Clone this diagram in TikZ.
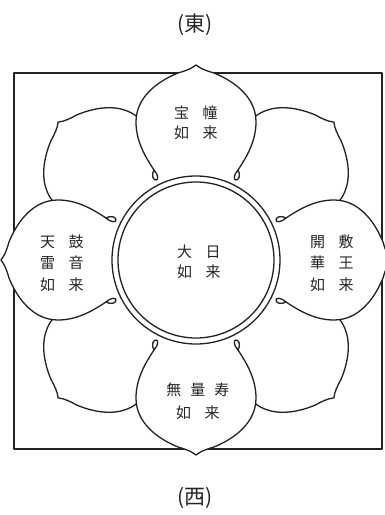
\documentclass[tikz,border=0pt]{standalone}
\usepackage{fontspec}
\usepackage{tikz}
\usetikzlibrary{positioning}
\newfontfamily\jpfont{Noto Sans CJK JP}
\definecolor{InkDark}{HTML}{222222}
\definecolor{TextGray}{HTML}{262626}

\tikzset{
  inkline/.style={draw=InkDark, line width=1.3pt, line join=round},
  nameblock/.style={align=center, text=TextGray, inner sep=0pt,
                    font=\jpfont\fontsize{15}{20}\selectfont},
  quarter/.style={text=TextGray, inner sep=0pt,
                  font=\jpfont\fontsize{21}{24}\selectfont},
  % one lotus petal, pointing up from the centre
  petal/.pic={
    \fill[white] (0,0) -- (-42,90) .. controls (-52,105) and (-60,120) .. (-60,138)
      .. controls (-60,162) and (-40,178) .. (-18,187)
      .. controls (-11,189) and (-5,191) .. (0,195)
      .. controls (5,191) and (11,189) .. (18,187)
      .. controls (40,178) and (60,162) .. (60,138)
      .. controls (60,120) and (52,105) .. (42,90) -- cycle;
    \draw[inkline] (-42,90) .. controls (-45,85) and (-43,80) .. (-40,80)
      .. controls (-37,80) and (-38,86) .. (-42,90)
      .. controls (-52,105) and (-60,120) .. (-60,138)
      .. controls (-60,162) and (-40,178) .. (-18,187)
      .. controls (-11,189) and (-5,191) .. (0,195)
      .. controls (5,191) and (11,189) .. (18,187)
      .. controls (40,178) and (60,162) .. (60,138)
      .. controls (60,120) and (52,105) .. (42,90)
      .. controls (38,86) and (37,80) .. (40,80)
      .. controls (43,80) and (45,85) .. (42,90);
  }
}

\begin{document}
\begin{tikzpicture}[x=1pt, y=1pt]
  \useasboundingbox (-196,-255) rectangle (188,260);

  % square frame
  \draw[inkline] (-182,-189) rectangle (186,187);

  % petals: diagonal ones first, the four main ones on top
  \foreach \ang in {45,135,225,315}
    \pic[rotate=\ang] at (0,0) {petal};
  \foreach \ang in {0,90,180,270}
    \pic[rotate=\ang] at (0,0) {petal};

  % centre disc with double rim
  \fill[white] (0,0) circle (84);
  \draw[inkline] (0,0) circle (84);
  \draw[inkline] (0,0) circle (78);

  % names
  \node[nameblock] (dainichi) at (3,-2) {大\hspace{.9em}日\\如\hspace{.9em}来};
  \node[nameblock] (hodo) at (0,137) {宝\hspace{.9em}幢\\如\hspace{.9em}来};
  \node[nameblock, font=\jpfont\fontsize{15}{21.5}\selectfont] (tenku) at (-134,-3)
    {天\hspace{.9em}鼓\\雷\hspace{.9em}音\\如\hspace{.9em}来};
  \node[nameblock, font=\jpfont\fontsize{15}{21.5}\selectfont] (kaifu) at (136,-3)
    {開\hspace{.9em}敷\\華\hspace{.9em}王\\如\hspace{.9em}来};
  \node[nameblock, font=\jpfont\fontsize{15}{23}\selectfont] (muryoju) at (2,-141)
    {無\hspace{.6em}量\hspace{.6em}寿\\如\hspace{.9em}来};

  % quarters
  \node[quarter] (east) at (-1,235) {(東)};
  \node[quarter] (west) at (-1,-238) {(西)};
\end{tikzpicture}
\end{document}
